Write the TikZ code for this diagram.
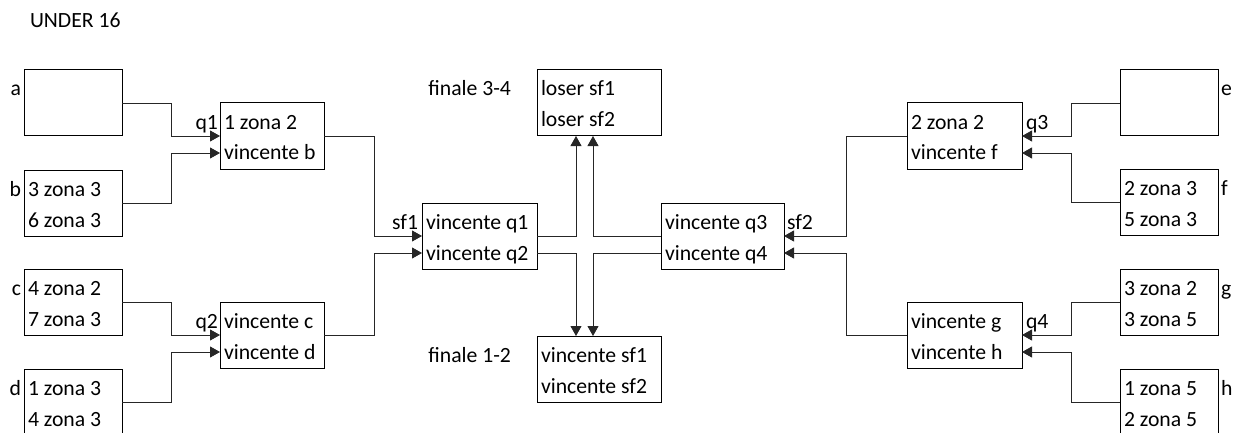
\documentclass[tikz,border=0pt]{standalone}
\usepackage{fontspec}
\setmainfont{Carlito}
\usetikzlibrary{arrows.meta,calc}
\tikzset{
  boxs/.style={draw=black,line width=1pt,rectangle,minimum height=66pt,inner sep=0pt,outer sep=0pt,anchor=north west},
  txt/.style={inner sep=0pt,outer sep=0pt,anchor=base west,font=\fontsize{21.7}{26}\selectfont},
  lbll/.style={inner sep=0pt,outer sep=0pt,anchor=base east,font=\fontsize{21.7}{26}\selectfont},
  lblr/.style={inner sep=0pt,outer sep=0pt,anchor=base west,font=\fontsize{21.7}{26}\selectfont},
  conn/.style={draw=black!85,line width=0.9pt},
  arr/.style={conn,-{Triangle[length=10pt,width=11pt]}},
}
\newcommand\tbox[6]{%
  \node[boxs,minimum width=#4] (#1) at (#2,#3) {};
  \node[txt] (#1-a) at ([shift={(4,26)}]#1.north west) {#5};
  \node[txt] (#1-b) at ([shift={(4,57)}]#1.north west) {#6};}
\begin{document}
\begin{tikzpicture}[x=1pt,y=-1pt]
\useasboundingbox (0,0) rectangle (1239,433);
\node[txt] (title) at (30,28) {UNDER 16};
% left column
\node[boxs,minimum width=98pt] (a) at (24,70) {};
\tbox{b}{24}{170}{98pt}{3 zona 3}{6 zona 3}
\tbox{c}{24}{269}{98pt}{4 zona 2}{7 zona 3}
\tbox{d}{24}{369}{98pt}{1 zona 3}{4 zona 3}
\node[lbll] (la) at ([shift={(-3,26)}]a.north west) {a};
\node[lbll] (lb) at ([shift={(-3,26)}]b.north west) {b};
\node[lbll] (lc) at ([shift={(-3,26)}]c.north west) {c};
\node[lbll] (ld) at ([shift={(-3,26)}]d.north west) {d};
% left quarters
\tbox{q1}{220}{103}{104pt}{1 zona 2}{vincente b}
\tbox{q2}{220}{302}{104pt}{vincente c}{vincente d}
\node[lbll] (lq1) at ([shift={(-2,26)}]q1.north west) {q1};
\node[lbll] (lq2) at ([shift={(-2,26)}]q2.north west) {q2};
% semis
\tbox{sf1}{422}{203}{115pt}{vincente q1}{vincente q2}
\tbox{sf2}{661}{203}{123pt}{vincente q3}{vincente q4}
\node[lbll] (lsf1) at ([shift={(-4,26)}]sf1.north west) {sf1};
\node[lblr] (lsf2) at ([shift={(3,26)}]sf2.north east) {sf2};
% finals
\tbox{f34}{537}{70}{124pt}{loser sf1}{loser sf2}
\tbox{f12}{537}{336}{124pt}{vincente sf1}{vincente sf2}
\node[lbll] (lf34) at ([shift={(-26,26)}]f34.north west) {finale 3-4};
\node[lbll] (lf12) at ([shift={(-26,26)}]f12.north west) {finale 1-2};
% right quarters
\tbox{q3}{907}{103}{115pt}{2 zona 2}{vincente f}
\tbox{q4}{907}{302}{115pt}{vincente g}{vincente h}
\node[lblr] (lq3) at ([shift={(4,26)}]q3.north east) {q3};
\node[lblr] (lq4) at ([shift={(4,26)}]q4.north east) {q4};
% right column
\node[boxs,minimum width=98pt] (e) at (1120,70) {};
\tbox{f}{1120}{169}{98pt}{2 zona 3}{5 zona 3}
\tbox{g}{1120}{269}{98pt}{3 zona 2}{3 zona 5}
\tbox{h}{1120}{369}{98pt}{1 zona 5}{2 zona 5}
\node[lblr] (le) at ([shift={(3,26)}]e.north east) {e};
\node[lblr] (lf) at ([shift={(3,26)}]f.north east) {f};
\node[lblr] (lg) at ([shift={(3,26)}]g.north east) {g};
\node[lblr] (lh) at ([shift={(3,26)}]h.north east) {h};
% connectors left
\draw[arr] (a.east) -- ++(49,0) |- (q1.west);
\draw[arr] (b.east) -- ++(49,0) |- ([yshift=-17pt]q1.west);
\draw[arr] (c.east) -- ++(49,0) |- (q2.west);
\draw[arr] (d.east) -- ++(49,0) |- ([yshift=-17pt]q2.west);
\draw[arr] (q1.east) -- ++(50,0) |- (sf1.west);
\draw[arr] (q2.east) -- ++(50,0) |- ([yshift=-17pt]sf1.west);
% connectors right
\draw[arr] (e.west) -- ++(-49,0) |- (q3.east);
\draw[arr] (f.west) -- ++(-49,0) |- ([yshift=-17pt]q3.east);
\draw[arr] (g.west) -- ++(-49,0) |- (q4.east);
\draw[arr] (h.west) -- ++(-49,0) |- ([yshift=-17pt]q4.east);
\draw[arr] (q3.west) -- ++(-61,0) |- (sf2.east);
\draw[arr] (q4.west) -- ++(-61,0) |- ([yshift=-17pt]sf2.east);
% center
\draw[arr] (sf1.east) -| ([xshift=-23pt]f34.south);
\draw[arr] ([yshift=-17pt]sf1.east) -| ([xshift=-23pt]f12.north);
\draw[arr] (sf2.west) -| ([xshift=-6pt]f34.south);
\draw[arr] ([yshift=-17pt]sf2.west) -| ([xshift=-6pt]f12.north);
\end{tikzpicture}
\end{document}
